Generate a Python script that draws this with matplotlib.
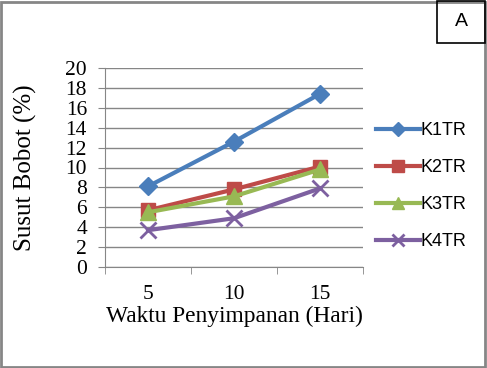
import matplotlib.pyplot as plt
from matplotlib.patches import Rectangle

# data
days = ['5', '10', '15']
k1tr = [8.1, 12.6, 17.4]
k2tr = [5.7, 7.8, 10.1]
k3tr = [5.5, 7.1, 9.8]
k4tr = [3.7, 4.9, 7.9]
y_ticks = [0, 2, 4, 6, 8, 10, 12, 14, 16, 18, 20]

W, H = 487, 368
fig = plt.figure(figsize=(W / 100, H / 100), dpi=100)

# plot area in pixels: left 105, right 363, top 68, bottom 267
ax = fig.add_axes([105 / W, 1 - 267 / H, (363 - 105) / W, (267 - 68) / H])

x = [1, 2, 3]
series = [
    ('K1TR', k1tr, '#4A7EBB', 'D', 9),
    ('K2TR', k2tr, '#BE4B48', 's', 10),
    ('K3TR', k3tr, '#98B954', '^', 11),
    ('K4TR', k4tr, '#7D60A0', 'x', 11),
]
for name, vals, col, mk, ms in series:
    ax.plot(x, vals, color=col, linewidth=3, marker=mk, markersize=ms,
            markeredgewidth=2 if mk == 'x' else 1, markeredgecolor=col,
            label=name)

ax.set_xlim(0.5, 3.5)
ax.set_ylim(0, 20)
ax.set_yticks(y_ticks)
ax.set_xticks(x)
ax.set_xticklabels(days)
ax.set_xticks([0.5, 1.5, 2.5, 3.5], minor=True)
ax.tick_params(axis='x', which='major', length=0, pad=13)
ax.tick_params(axis='x', which='minor', length=5, color='#868686')
ax.tick_params(axis='y', length=5, color='#868686', pad=8)
ax.grid(axis='y', color='#868686', linewidth=1)
ax.set_axisbelow(True)
for s in ['top', 'right']:
    ax.spines[s].set_visible(False)
for s in ['left', 'bottom']:
    ax.spines[s].set_color('#868686')

serif = 'Liberation Serif'
for lab in ax.get_xticklabels() + ax.get_yticklabels():
    lab.set_fontfamily(serif)
    lab.set_fontsize(15.5)
ax.set_xlabel('Waktu Penyimpanan (Hari)', fontfamily=serif, fontsize=16.8)
ax.xaxis.set_label_coords(0.5, -(316 - 267) / (267 - 68), transform=ax.transAxes)
ax.xaxis.label.set_va('center')
ax.set_ylabel('Susut Bobot (%)', fontfamily=serif, fontsize=18)
ax.yaxis.set_label_coords(-(105 - 25) / (363 - 105), 0.5, transform=ax.transAxes)
ax.yaxis.label.set_va('center')

leg = fig.legend(loc='upper left', bbox_to_anchor=(360 / W, 1 - 106 / H),
                 frameon=False, prop={'family': 'Liberation Sans', 'size': 13},
                 handlelength=2.4, handletextpad=0.05, labelspacing=1.1,
                 markerscale=0.8)

# outer frame and "A" box
fig.patches.append(Rectangle((1 / W, 1 / H), (W - 3) / W, (H - 3) / H,
                             transform=fig.transFigure, fill=False,
                             edgecolor='#868686', linewidth=2))
fig.patches.append(Rectangle((437 / W, 1 - 43 / H), 48 / W, 42 / H,
                             transform=fig.transFigure, fill=False,
                             edgecolor='black', linewidth=1.2))
fig.text(461 / W, 1 - 22 / H, 'A', ha='center', va='center',
         fontfamily='Liberation Sans', fontsize=14)

fig.savefig('out.png', dpi=100)
